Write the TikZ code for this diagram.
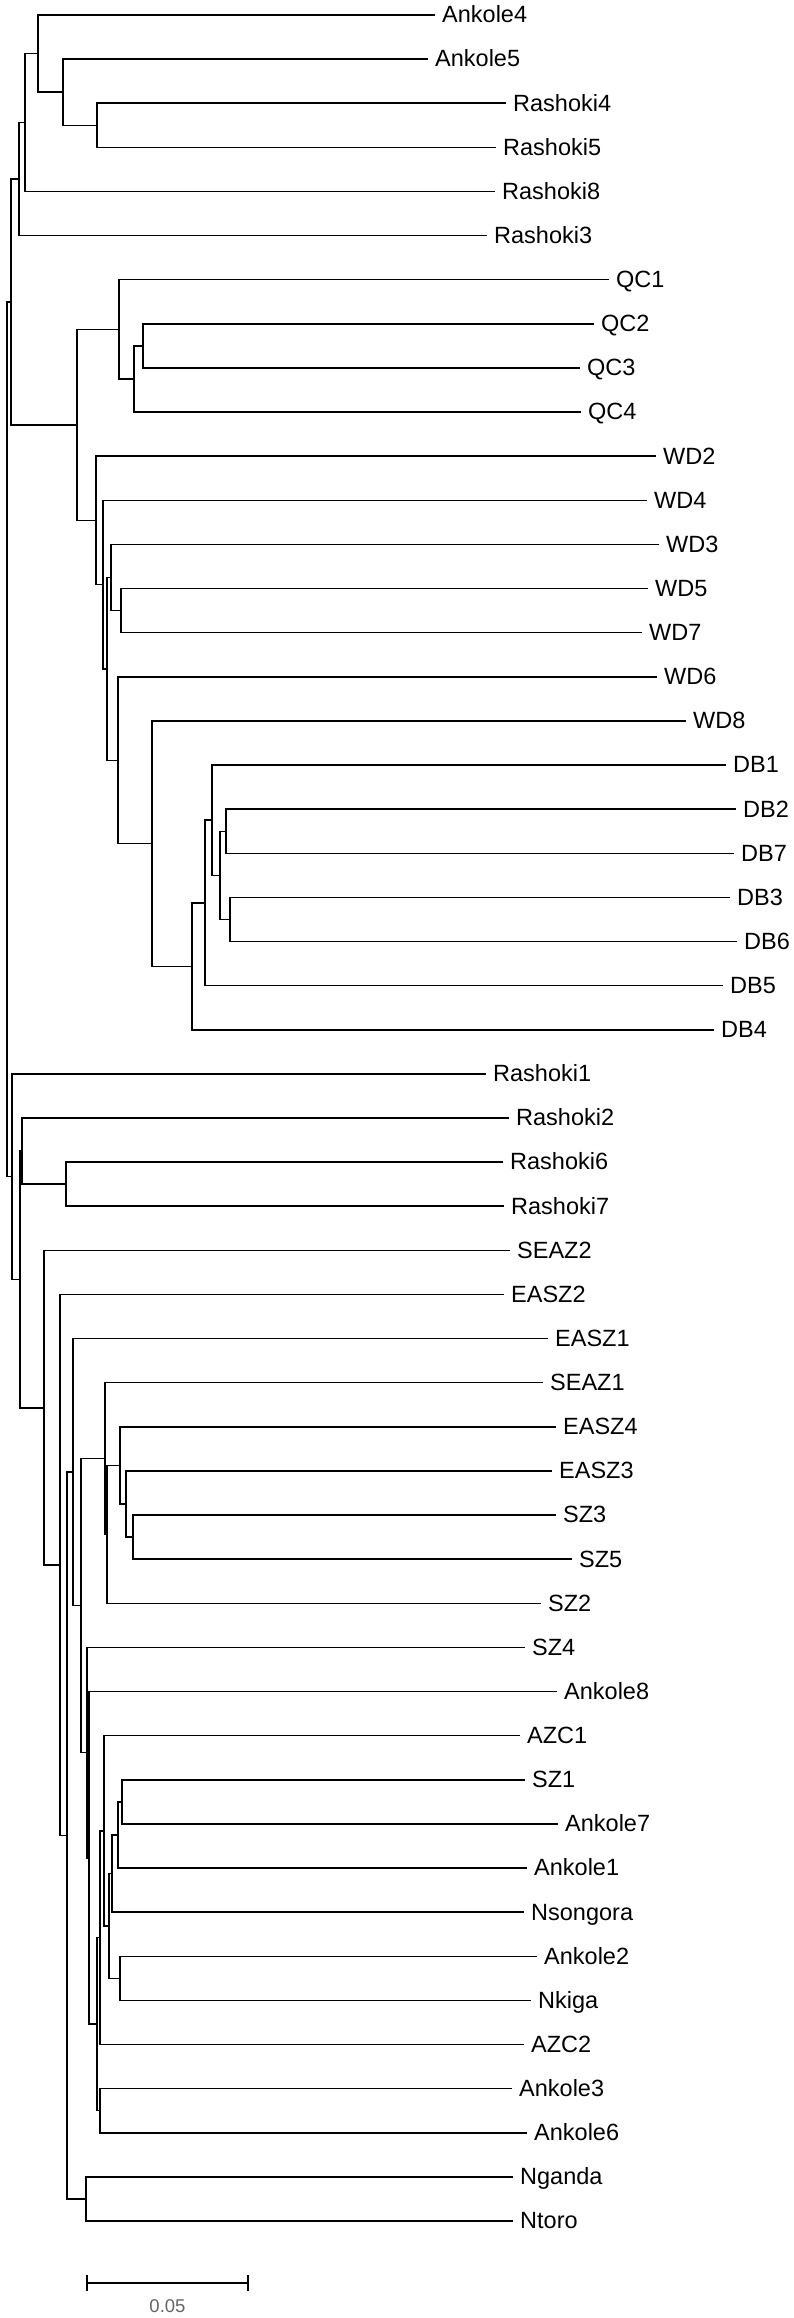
\documentclass[tikz,border=0pt]{standalone}
\usepackage{fontspec}
\setmainfont{Liberation Sans}
\usepackage{tikz}
\usetikzlibrary{positioning}
\colorlet{branch}{black}
\colorlet{barlabel}{black!60}

\begin{document}
\begin{tikzpicture}[
x=1pt,y=-1pt,
Branch/.style={draw=branch,line width=1.5pt},
Taxon/.style={anchor=base west,inner sep=0pt,xshift=7pt,yshift=-7.8pt,font=\fontsize{23.5}{28}\selectfont},
ScaleBar/.style={draw=branch,line width=1.4pt},
BarTick/.style={draw=branch,line width=2.8pt},
BarLabel/.style={inner sep=0pt,text=barlabel,font=\fontsize{18.5}{22}\selectfont}
]
\useasboundingbox (0,0) rectangle (793,2318);
%\draw[help lines,step=50] (0,0) grid (793,2318);

% tips of the tree (x = end of branch, y = row)
\path (435,15.0)   coordinate (Ankole4)  node[Taxon] (tAnkole4)  {Ankole4};
\path (428,59.1)   coordinate (Ankole5)  node[Taxon] (tAnkole5)  {Ankole5};
\path (506,103.2)  coordinate (Rashoki4) node[Taxon] (tRashoki4) {Rashoki4};
\path (496,147.4)  coordinate (Rashoki5) node[Taxon] (tRashoki5) {Rashoki5};
\path (495,191.5)  coordinate (Rashoki8) node[Taxon] (tRashoki8) {Rashoki8};
\path (487,235.6)  coordinate (Rashoki3) node[Taxon] (tRashoki3) {Rashoki3};
\path (609,279.7)  coordinate (QC1)      node[Taxon] (tQC1)      {QC1};
\path (594,323.8)  coordinate (QC2)      node[Taxon] (tQC2)      {QC2};
\path (580,368.0)  coordinate (QC3)      node[Taxon] (tQC3)      {QC3};
\path (581,412.1)  coordinate (QC4)      node[Taxon] (tQC4)      {QC4};
\path (656,456.2)  coordinate (WD2)      node[Taxon] (tWD2)      {WD2};
\path (647,500.3)  coordinate (WD4)      node[Taxon] (tWD4)      {WD4};
\path (659,544.4)  coordinate (WD3)      node[Taxon] (tWD3)      {WD3};
\path (648,588.6)  coordinate (WD5)      node[Taxon] (tWD5)      {WD5};
\path (642,632.7)  coordinate (WD7)      node[Taxon] (tWD7)      {WD7};
\path (657,676.8)  coordinate (WD6)      node[Taxon] (tWD6)      {WD6};
\path (686,720.9)  coordinate (WD8)      node[Taxon] (tWD8)      {WD8};
\path (726,765.0)  coordinate (DB1)      node[Taxon] (tDB1)      {DB1};
\path (736,809.2)  coordinate (DB2)      node[Taxon] (tDB2)      {DB2};
\path (734,853.3)  coordinate (DB7)      node[Taxon] (tDB7)      {DB7};
\path (730,897.4)  coordinate (DB3)      node[Taxon] (tDB3)      {DB3};
\path (737,941.5)  coordinate (DB6)      node[Taxon] (tDB6)      {DB6};
\path (723,985.6)  coordinate (DB5)      node[Taxon] (tDB5)      {DB5};
\path (714,1029.8) coordinate (DB4)      node[Taxon] (tDB4)      {DB4};
\path (486,1073.9) coordinate (Rashoki1) node[Taxon] (tRashoki1) {Rashoki1};
\path (509,1118.0) coordinate (Rashoki2) node[Taxon] (tRashoki2) {Rashoki2};
\path (503,1162.1) coordinate (Rashoki6) node[Taxon] (tRashoki6) {Rashoki6};
\path (504,1206.2) coordinate (Rashoki7) node[Taxon] (tRashoki7) {Rashoki7};
\path (510,1250.4) coordinate (SEAZ2)    node[Taxon] (tSEAZ2)    {SEAZ2};
\path (504,1294.5) coordinate (EASZ2)    node[Taxon] (tEASZ2)    {EASZ2};
\path (548,1338.6) coordinate (EASZ1)    node[Taxon] (tEASZ1)    {EASZ1};
\path (543,1382.7) coordinate (SEAZ1)    node[Taxon] (tSEAZ1)    {SEAZ1};
\path (556,1426.8) coordinate (EASZ4)    node[Taxon] (tEASZ4)    {EASZ4};
\path (552,1471.0) coordinate (EASZ3)    node[Taxon] (tEASZ3)    {EASZ3};
\path (556,1515.1) coordinate (SZ3)      node[Taxon] (tSZ3)      {SZ3};
\path (572,1559.2) coordinate (SZ5)      node[Taxon] (tSZ5)      {SZ5};
\path (541,1603.3) coordinate (SZ2)      node[Taxon] (tSZ2)      {SZ2};
\path (525,1647.4) coordinate (SZ4)      node[Taxon] (tSZ4)      {SZ4};
\path (557,1691.6) coordinate (Ankole8)  node[Taxon] (tAnkole8)  {Ankole8};
\path (520,1735.7) coordinate (AZC1)     node[Taxon] (tAZC1)     {AZC1};
\path (525,1779.8) coordinate (SZ1)      node[Taxon] (tSZ1)      {SZ1};
\path (558,1823.9) coordinate (Ankole7)  node[Taxon] (tAnkole7)  {Ankole7};
\path (527,1868.0) coordinate (Ankole1)  node[Taxon] (tAnkole1)  {Ankole1};
\path (524,1912.2) coordinate (Nsongora) node[Taxon] (tNsongora) {Nsongora};
\path (537,1956.3) coordinate (Ankole2)  node[Taxon] (tAnkole2)  {Ankole2};
\path (531,2000.4) coordinate (Nkiga)    node[Taxon] (tNkiga)    {Nkiga};
\path (524,2044.5) coordinate (AZC2)     node[Taxon] (tAZC2)     {AZC2};
\path (512,2088.6) coordinate (Ankole3)  node[Taxon] (tAnkole3)  {Ankole3};
\path (527,2132.8) coordinate (Ankole6)  node[Taxon] (tAnkole6)  {Ankole6};
\path (513,2176.9) coordinate (Nganda)   node[Taxon] (tNganda)   {Nganda};
\path (513,2221.0) coordinate (Ntoro)    node[Taxon] (tNtoro)    {Ntoro};

% inner nodes, y is the midpoint of the two children
\coordinate (root)    at (7,739.4);
\coordinate (nTop)    at (11,302.1);
\coordinate (nAR)     at (19,179.1);
\coordinate (nAR2)    at (25,122.6);
\coordinate (nAR3)    at (38,53.6);
\coordinate (nAR4)    at (63,92.2);
\coordinate (nR45)    at (97,125.3);
\coordinate (nQW)     at (77,425.0);
\coordinate (nQC)     at (119,329.4);
\coordinate (nQC234)  at (134,379.0);
\coordinate (nQC23)   at (143,345.9);
\coordinate (nWD)     at (96,520.5);
\coordinate (nW1)     at (103,584.7);
\coordinate (nW2)     at (107,669.0);
\coordinate (nW3)     at (111,577.6);
\coordinate (nW5)     at (121,610.7);
\coordinate (nW4)     at (118,760.3);
\coordinate (nW6)     at (152,843.7);
\coordinate (nDB)     at (192,966.4);
\coordinate (nDB1)    at (205,902.9);
\coordinate (nDB2)    at (212,820.2);
\coordinate (nDB3)    at (220,875.4);
\coordinate (nDB27)   at (226,831.3);
\coordinate (nDB36)   at (230,919.5);
\coordinate (nBottom) at (12,1176.7);
\coordinate (nR)      at (20,1279.5);
\coordinate (nR267)   at (22,1151.1);
\coordinate (nR67)    at (66,1184.2);
\coordinate (nS)      at (44,1407.8);
\coordinate (nT)      at (60,1565.1);
\coordinate (nU)      at (67,1835.6);
\coordinate (nNN)     at (86,2199.0);
\coordinate (nE1)     at (73,1472.2);
\coordinate (nE2)     at (81,1605.7);
\coordinate (nE3)     at (105,1458.6);
\coordinate (nE4)     at (107,1534.4);
\coordinate (nE5)     at (120,1465.5);
\coordinate (nE6)     at (126,1504.1);
\coordinate (nSZ35)   at (133,1537.2);
\coordinate (nA1)     at (87,1752.7);
\coordinate (nA2)     at (89,1857.9);
\coordinate (nA3)     at (97,2024.2);
\coordinate (nA36)    at (100,2110.7);
\coordinate (nA4)     at (100,1937.7);
\coordinate (nA5)     at (104,1830.9);
\coordinate (nA6)     at (109,1926.0);
\coordinate (nA7)     at (112,1873.6);
\coordinate (nA8)     at (118,1835.0);
\coordinate (nA9)     at (122,1801.9);
\coordinate (nAN)     at (120,1978.4);

% branches: child -| parent |- child
\draw[Branch] (nTop) -| (root) |- (nBottom);
\draw[Branch] (nAR) -| (nTop) |- (nQW);
\draw[Branch] (nAR2) -| (nAR) |- (Rashoki3);
\draw[Branch] (nAR3) -| (nAR2) |- (Rashoki8);
\draw[Branch] (Ankole4) -| (nAR3) |- (nAR4);
\draw[Branch] (Ankole5) -| (nAR4) |- (nR45);
\draw[Branch] (Rashoki4) -| (nR45) |- (Rashoki5);
\draw[Branch] (nQC) -| (nQW) |- (nWD);
\draw[Branch] (QC1) -| (nQC) |- (nQC234);
\draw[Branch] (nQC23) -| (nQC234) |- (QC4);
\draw[Branch] (QC2) -| (nQC23) |- (QC3);
\draw[Branch] (WD2) -| (nWD) |- (nW1);
\draw[Branch] (WD4) -| (nW1) |- (nW2);
\draw[Branch] (nW3) -| (nW2) |- (nW4);
\draw[Branch] (WD3) -| (nW3) |- (nW5);
\draw[Branch] (WD5) -| (nW5) |- (WD7);
\draw[Branch] (WD6) -| (nW4) |- (nW6);
\draw[Branch] (WD8) -| (nW6) |- (nDB);
\draw[Branch] (nDB1) -| (nDB) |- (DB4);
\draw[Branch] (nDB2) -| (nDB1) |- (DB5);
\draw[Branch] (DB1) -| (nDB2) |- (nDB3);
\draw[Branch] (nDB27) -| (nDB3) |- (nDB36);
\draw[Branch] (DB2) -| (nDB27) |- (DB7);
\draw[Branch] (DB3) -| (nDB36) |- (DB6);

\draw[Branch] (Rashoki1) -| (nBottom) |- (nR);
\draw[Branch] (nR267) -| (nR) |- (nS);
\draw[Branch] (Rashoki2) -| (nR267) |- (nR67);
\draw[Branch] (Rashoki6) -| (nR67) |- (Rashoki7);
\draw[Branch] (SEAZ2) -| (nS) |- (nT);
\draw[Branch] (EASZ2) -| (nT) |- (nU);
\draw[Branch] (nE1) -| (nU) |- (nNN);
\draw[Branch] (Nganda) -| (nNN) |- (Ntoro);
\draw[Branch] (EASZ1) -| (nE1) |- (nE2);
\draw[Branch] (nE3) -| (nE2) |- (nA1);
\draw[Branch] (SEAZ1) -| (nE3) |- (nE4);
\draw[Branch] (nE5) -| (nE4) |- (SZ2);
\draw[Branch] (EASZ4) -| (nE5) |- (nE6);
\draw[Branch] (EASZ3) -| (nE6) |- (nSZ35);
\draw[Branch] (SZ3) -| (nSZ35) |- (SZ5);
\draw[Branch] (SZ4) -| (nA1) |- (nA2);
\draw[Branch] (Ankole8) -| (nA2) |- (nA3);
\draw[Branch] (nA4) -| (nA3) |- (nA36);
\draw[Branch] (Ankole3) -| (nA36) |- (Ankole6);
\draw[Branch] (nA5) -| (nA4) |- (AZC2);
\draw[Branch] (AZC1) -| (nA5) |- (nA6);
\draw[Branch] (nA7) -| (nA6) |- (nAN);
\draw[Branch] (nA8) -| (nA7) |- (Nsongora);
\draw[Branch] (nA9) -| (nA8) |- (Ankole1);
\draw[Branch] (SZ1) -| (nA9) |- (Ankole7);
\draw[Branch] (Ankole2) -| (nAN) |- (Nkiga);

% scale bar
\coordinate (bar0) at (87,2283);
\coordinate (bar1) at (248,2283);
\coordinate (barmid) at (167.5,2283);
\draw[ScaleBar] (bar0) -- (bar1);
\draw[BarTick] ([yshift=8pt]bar0) -- ([yshift=-8pt]bar0);
\draw[BarTick] ([yshift=8pt]bar1) -- ([yshift=-8pt]bar1);
\node[BarLabel,below=16pt of barmid] (tBar) {0.05};

\end{tikzpicture}
\end{document}
